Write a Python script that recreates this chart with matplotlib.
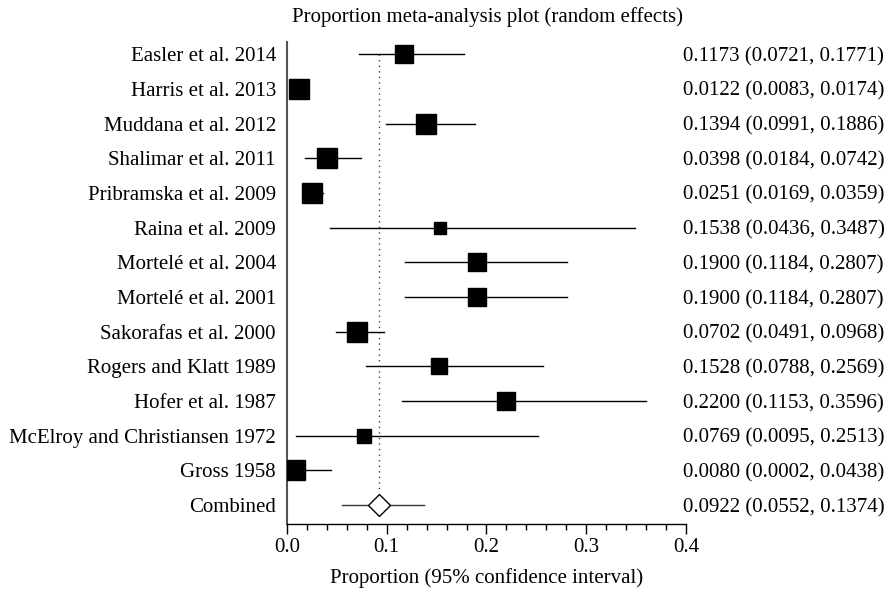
import matplotlib
matplotlib.use("Agg")
import matplotlib.pyplot as plt
from matplotlib.ticker import MultipleLocator

studies = ["Easler et al. 2014", "Harris et al. 2013", "Muddana et al. 2012",
           "Shalimar et al. 2011", "Pribramska et al. 2009", "Raina et al. 2009",
           "Mortelé et al. 2004", "Mortelé et al. 2001", "Sakorafas et al. 2000",
           "Rogers and Klatt 1989", "Hofer et al. 1987",
           "McElroy and Christiansen 1972", "Gross 1958"]
est = [0.1173, 0.0122, 0.1394, 0.0398, 0.0251, 0.1538, 0.1900, 0.1900,
       0.0702, 0.1528, 0.2200, 0.0769, 0.0080]
lo = [0.0721, 0.0083, 0.0991, 0.0184, 0.0169, 0.0436, 0.1184, 0.1184,
      0.0491, 0.0788, 0.1153, 0.0095, 0.0002]
hi = [0.1771, 0.0174, 0.1886, 0.0742, 0.0359, 0.3487, 0.2807, 0.2807,
      0.0968, 0.2569, 0.3596, 0.2513, 0.0438]
# marker sizes (visual weights) in points
msize = [13.0, 13.7, 13.7, 13.7, 13.7, 8.5, 12.5, 12.5, 13.7, 11.0, 12.5, 10.0, 13.7]

comb_label = "Combined"
comb_est, comb_lo, comb_hi = 0.0922, 0.0552, 0.1374

plt.rcParams['font.family'] = ['Liberation Serif', 'DejaVu Serif']
FS = 15

fig = plt.figure(figsize=(8.85, 5.91), dpi=100)
ax = fig.add_axes([0.3243, 0.1134, 0.4508, 0.8155])

n = len(studies)
for i in range(n):
    ax.plot([lo[i], hi[i]], [i, i], color='black', lw=1.0, zorder=2)
    ax.plot(est[i], i, marker='s', ms=msize[i], color='black', zorder=3)

ax.plot([comb_lo, comb_hi], [n, n], color='#333333', lw=1.0, zorder=2)
ax.plot(comb_est, n, marker='D', ms=11.5, mfc='white', mec='black', mew=1.0, zorder=3)
ax.plot([comb_est, comb_est], [0, n - 0.35], color='#444444', lw=1.0,
        linestyle=(0, (1, 3)), zorder=1)

ax.set_xlim(0, 0.4)
ax.set_ylim(n + 0.55, -0.35)
labels = studies + [comb_label]
ax.set_yticks(range(n + 1))
ax.set_yticklabels(labels, fontsize=FS)
ax.tick_params(axis='y', length=0, pad=8)
ax.xaxis.set_major_locator(MultipleLocator(0.1))
ax.xaxis.set_minor_locator(MultipleLocator(0.02))
ax.set_xticks([0.0, 0.1, 0.2, 0.3, 0.4])
ax.set_xticklabels(["0.0", "0.1", "0.2", "0.3", "0.4"], fontsize=FS)
ax.tick_params(axis='x', which='major', length=7, width=1.0, direction='out', pad=3)
ax.tick_params(axis='x', which='minor', length=4, width=1.0, direction='out')
for s in ['top', 'right']:
    ax.spines[s].set_visible(False)
ax.spines['left'].set_color('#555555')
ax.spines['left'].set_linewidth(1.5)
ax.spines['bottom'].set_linewidth(1.0)

# right-hand value labels
vals = [f"{e:.4f} ({l:.4f}, {h:.4f})" for e, l, h in zip(est, lo, hi)]
vals.append(f"{comb_est:.4f} ({comb_lo:.4f}, {comb_hi:.4f})")
for i, t in enumerate(vals):
    ax.text(0.993, i, t, transform=ax.get_yaxis_transform(), ha='left',
            va='center_baseline', fontsize=FS)

ax.set_xlabel("Proportion (95% confidence interval)", fontsize=FS, labelpad=8)
fig.text(0.5514, 0.971, "Proportion meta-analysis plot (random effects)",
         ha='center', va='center', fontsize=FS)

fig.savefig("out.png", dpi=100)
